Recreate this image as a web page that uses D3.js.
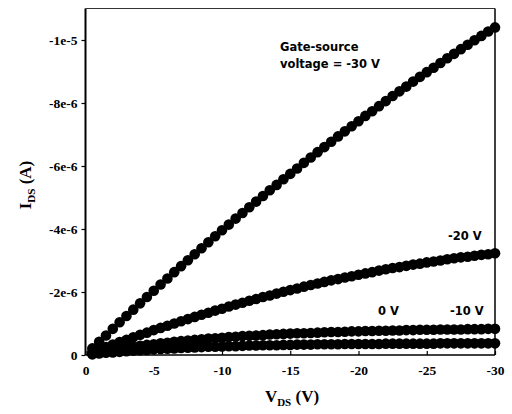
<!DOCTYPE html>
<html>
<head>
<meta charset="utf-8">
<script src="https://cdn.jsdelivr.net/npm/d3@7"></script>
<style>
  body { margin: 0; background: #fff; }
  .axis text { font-family: "Liberation Serif", serif; font-weight: bold; font-size: 13.5px; fill: #000; }
  .axis path { display: none; }
  .axis line { stroke: #000; stroke-width: 1.2; }
  .note { font-family: "DejaVu Sans", sans-serif; font-weight: bold; font-size: 11.5px; fill: #000; }
  .title { font-family: "Liberation Serif", serif; font-weight: bold; fill: #000; }
</style>
</head>
<body>
<script>
// drain-source voltage (V)
var vds = [-0.5, -1, -1.5, -2, -2.5, -3, -3.5, -4, -4.5, -5, -5.5, -6, -6.5, -7, -7.5, -8, -8.5, -9, -9.5, -10,
  -10.5, -11, -11.5, -12, -12.5, -13, -13.5, -14, -14.5, -15, -15.5, -16, -16.5, -17, -17.5, -18, -18.5, -19, -19.5, -20,
  -20.5, -21, -21.5, -22, -22.5, -23, -23.5, -24, -24.5, -25, -25.5, -26, -26.5, -27, -27.5, -28, -28.5, -29, -29.5, -30];

// drain current in microamps, one array per gate-source voltage
var ids_m30 = [-0.21, -0.42, -0.62, -0.83, -1.04, -1.24, -1.44, -1.64, -1.84, -2.04, -2.24, -2.43, -2.63, -2.82, -3.01, -3.20, -3.39, -3.58, -3.77, -3.96,
  -4.14, -4.33, -4.51, -4.69, -4.87, -5.05, -5.23, -5.40, -5.58, -5.75, -5.92, -6.10, -6.27, -6.44, -6.60, -6.77, -6.94, -7.10, -7.26, -7.42,
  -7.59, -7.74, -7.90, -8.06, -8.22, -8.37, -8.52, -8.68, -8.83, -8.98, -9.12, -9.27, -9.42, -9.56, -9.71, -9.85, -9.99, -10.13, -10.27, -10.40];
var ids_m20 = [-0.08, -0.17, -0.25, -0.33, -0.41, -0.48, -0.56, -0.64, -0.71, -0.79, -0.86, -0.93, -1.00, -1.07, -1.14, -1.21, -1.28, -1.34, -1.41, -1.47,
  -1.54, -1.60, -1.66, -1.72, -1.78, -1.84, -1.89, -1.95, -2.01, -2.06, -2.11, -2.17, -2.22, -2.27, -2.32, -2.37, -2.41, -2.46, -2.50, -2.55,
  -2.59, -2.63, -2.68, -2.72, -2.76, -2.79, -2.83, -2.87, -2.90, -2.94, -2.97, -3.00, -3.04, -3.07, -3.10, -3.12, -3.15, -3.18, -3.20, -3.23];
var ids_m10 = [-0.04, -0.08, -0.12, -0.16, -0.19, -0.23, -0.26, -0.29, -0.32, -0.34, -0.37, -0.39, -0.42, -0.44, -0.46, -0.48, -0.50, -0.52, -0.53, -0.55,
  -0.57, -0.58, -0.60, -0.61, -0.62, -0.63, -0.65, -0.66, -0.67, -0.68, -0.69, -0.69, -0.70, -0.71, -0.72, -0.73, -0.73, -0.74, -0.75, -0.75,
  -0.76, -0.76, -0.77, -0.77, -0.78, -0.78, -0.79, -0.79, -0.80, -0.80, -0.80, -0.81, -0.81, -0.81, -0.81, -0.82, -0.82, -0.82, -0.83, -0.83];
var ids_0 = [-0.02, -0.05, -0.07, -0.08, -0.10, -0.12, -0.14, -0.15, -0.16, -0.18, -0.19, -0.20, -0.21, -0.22, -0.23, -0.24, -0.25, -0.26, -0.26, -0.27,
  -0.28, -0.28, -0.29, -0.30, -0.30, -0.31, -0.31, -0.31, -0.32, -0.32, -0.33, -0.33, -0.33, -0.34, -0.34, -0.34, -0.34, -0.35, -0.35, -0.35,
  -0.35, -0.35, -0.35, -0.36, -0.36, -0.36, -0.36, -0.36, -0.36, -0.36, -0.36, -0.37, -0.37, -0.37, -0.37, -0.37, -0.37, -0.37, -0.37, -0.37];

var xTicks = [0, -5, -10, -15, -20, -25, -30];
var yTicks = [0, -2, -4, -6, -8, -10];
var yTickLabels = ["0", "-2e-6", "-4e-6", "-6e-6", "-8e-6", "-1e-5"];

var width = 512, height = 414;
var padL = 85.5, padR = 495, padT = 8.5, padB = 355;

var svg = d3.select("body").append("svg")
  .attr("width", width)
  .attr("height", height);

var x = d3.scaleLinear().domain([0, -30]).range([padL, padR]);
var y = d3.scaleLinear().domain([0, -11]).range([padB, padT]);

// frame
svg.append("line").attr("x1", padL).attr("x2", padL).attr("y1", padT).attr("y2", padB)
  .attr("stroke", "#000").attr("stroke-width", 2);
svg.append("line").attr("x1", padL).attr("x2", padR).attr("y1", padT).attr("y2", padT)
  .attr("stroke", "#333").attr("stroke-width", 1.2);
svg.append("line").attr("x1", padR).attr("x2", padR).attr("y1", padT).attr("y2", padB)
  .attr("stroke", "#000").attr("stroke-width", 1.5);
svg.append("line").attr("x1", padL).attr("x2", padR).attr("y1", padB).attr("y2", padB)
  .attr("stroke", "#000").attr("stroke-width", 1.5);

// axes
svg.append("g")
  .attr("class", "axis")
  .attr("transform", "translate(0," + padB + ")")
  .call(d3.axisBottom(x).tickValues(xTicks).tickSizeInner(-4).tickSizeOuter(0).tickPadding(10)
    .tickFormat(function(d){ return String(d); }));

svg.append("g")
  .attr("class", "axis")
  .attr("transform", "translate(" + padL + ",0)")
  .call(d3.axisLeft(y).tickValues(yTicks).tickSizeInner(4).tickSizeOuter(0).tickPadding(4)
    .tickFormat(function(d, i){ return yTickLabels[i]; }));

// series
var series = [ids_m30, ids_m20, ids_m10, ids_0];
series.forEach(function(vals){
  svg.append("g").selectAll("circle")
    .data(vals)
    .enter()
    .append("circle")
    .attr("cx", function(d, i){ return x(vds[i]); })
    .attr("cy", function(d){ return y(d); })
    .attr("r", 5.3)
    .attr("fill", "#000");
});

// labels on curves
svg.append("text").attr("class", "note").attr("x", 280).attr("y", 51).text("Gate-source");
svg.append("text").attr("class", "note").attr("x", 280).attr("y", 68).text("voltage = -30 V");
svg.append("text").attr("class", "note").attr("x", 448).attr("y", 240).text("-20 V");
svg.append("text").attr("class", "note").attr("x", 378).attr("y", 315).text("0 V");
svg.append("text").attr("class", "note").attr("x", 450).attr("y", 315).text("-10 V");

// axis titles
var xt = svg.append("text").attr("class", "title").attr("x", 292).attr("y", 402)
  .attr("text-anchor", "middle").style("font-size", "17px");
xt.append("tspan").text("V");
xt.append("tspan").attr("dy", 4).style("font-size", "11px").text("DS");
xt.append("tspan").attr("dy", -4).text(" (V)");

var yt = svg.append("text").attr("class", "title")
  .attr("transform", "translate(31,185) rotate(-90)")
  .attr("text-anchor", "middle").style("font-size", "17px");
yt.append("tspan").text("I");
yt.append("tspan").attr("dy", 4).style("font-size", "11px").text("DS");
yt.append("tspan").attr("dy", -4).text(" (A)");
</script>
</body>
</html>
